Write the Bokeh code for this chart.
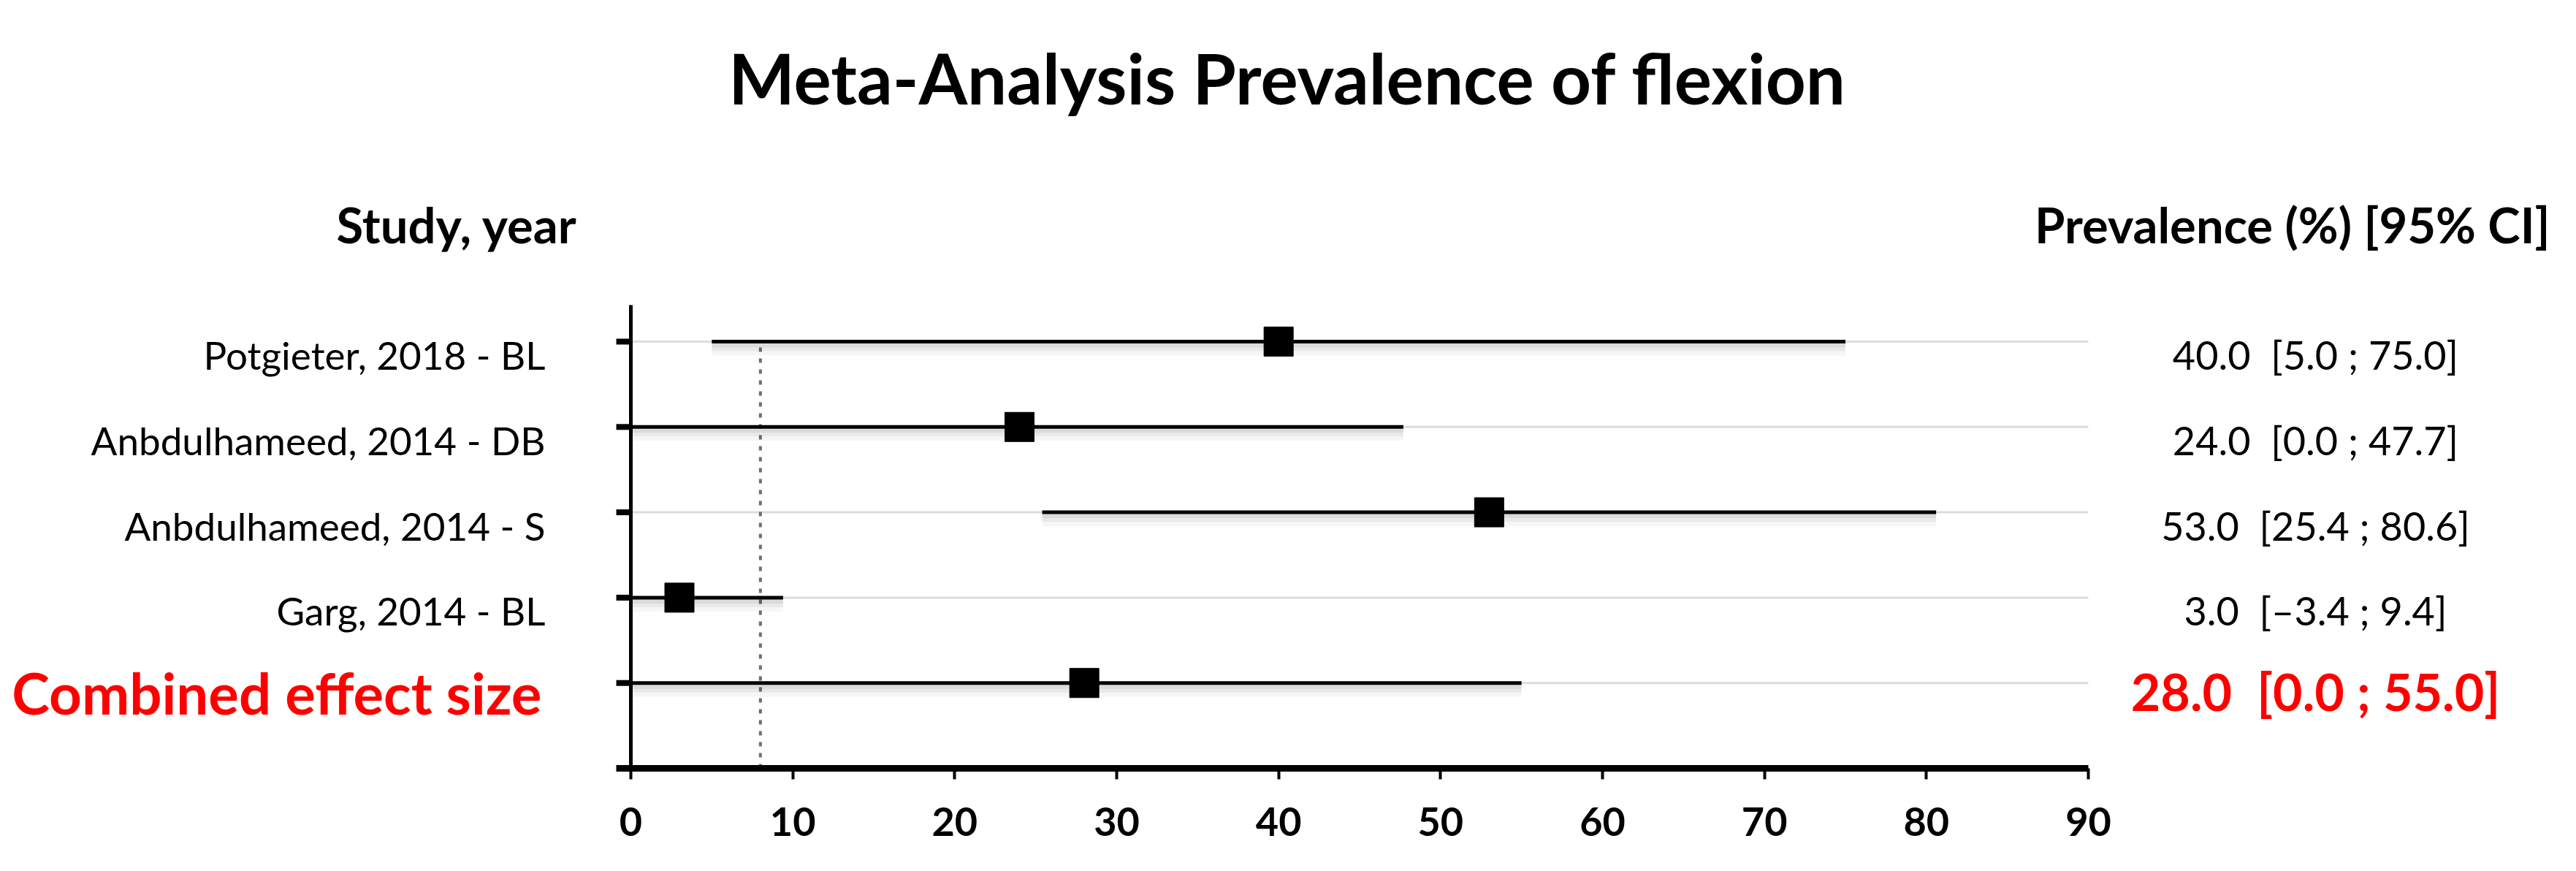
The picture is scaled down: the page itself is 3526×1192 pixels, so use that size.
from bokeh.plotting import figure
from bokeh.models import Range1d, FixedTicker
from bokeh.core.properties import value
from bokeh.embed import file_html
from bokeh.resources import INLINE

# ---------------- data ----------------
title_text = "Meta-Analysis Prevalence of flexion"
left_header = "Study, year"
right_header = "Prevalence (%) [95% CI]"

studies = ["Potgieter, 2018 - BL", "Anbdulhameed, 2014 - DB",
           "Anbdulhameed, 2014 - S", "Garg, 2014 - BL"]
estimates = [40.0, 24.0, 53.0, 3.0]
ci_low = [5.0, 0.0, 25.4, -3.4]
ci_high = [75.0, 47.7, 80.6, 9.4]

combined_label = "Combined effect size"
combined_estimate = 28.0
combined_low = 0.0
combined_high = 55.0

reference_value = 8.0
x_ticks = [0, 10, 20, 30, 40, 50, 60, 70, 80, 90]

# ---------------- layout ----------------
W, H = 3510, 1176
X0_PX = 863.0            # canvas px of x = 0
PX_PER_X = 1995.0 / 90.0
AXIS_PX = 1051.0         # canvas px of frame bottom (y = 0)
PX_PER_Y = 116.8
FONT = value("Lato")


def sx(px):  # screenshot x -> data x
    return (px - 8 - X0_PX) / PX_PER_X


def sy(py):  # screenshot y -> data y
    return (AXIS_PX - (py - 8)) / PX_PER_Y


x_start = -X0_PX / PX_PER_X
x_end = x_start + W / PX_PER_X
y_end = AXIS_PX / PX_PER_Y

p = figure(width=W, height=H, output_backend="svg", toolbar_location=None,
           x_range=Range1d(x_start, x_end), y_range=Range1d(0, y_end),
           y_axis_location=None, min_border_left=0, min_border_right=0,
           min_border_top=0, min_border_bottom=H - int(AXIS_PX))
p.outline_line_color = None
p.xgrid.visible = False
p.ygrid.visible = False
p.background_fill_color = "white"
p.border_fill_color = "white"

# x axis
ax = p.xaxis[0]
ax.ticker = FixedTicker(ticks=x_ticks)
ax.bounds = (-0.9, x_ticks[-1])
ax.axis_line_width = 9
ax.axis_line_color = "black"
ax.major_tick_in = 0
ax.major_tick_out = 15
ax.major_tick_line_width = 4
ax.minor_tick_line_color = None
ax.major_label_text_font = "Lato"
ax.major_label_text_font_style = "bold"
ax.major_label_text_font_size = "54px"
ax.major_label_text_color = "black"
ax.major_label_standoff = 38

n = len(studies)
rows = [float(n + 1 - i) for i in range(n)]
comb_row = 1.0
all_rows = rows + [comb_row]
all_lo = [max(v, x_ticks[0]) for v in ci_low + [combined_low]]
all_hi = ci_high + [combined_high]
all_est = estimates + [combined_estimate]

# gridlines
p.segment(x0=[x_ticks[0]] * len(all_rows), x1=[x_ticks[-1]] * len(all_rows),
          y0=all_rows, y1=all_rows, line_color="#dcdcdc", line_width=3)

# reference dotted line
p.segment(x0=[reference_value], x1=[reference_value], y0=[0], y1=[rows[0] - 0.05],
          line_color="#6e6e6e", line_width=4, line_dash="6 9")

# shadows
for k, a in [(8, 0.06), (13, 0.05), (19, 0.035)]:
    p.quad(left=all_lo, right=all_hi,
           top=[r - 2 / PX_PER_Y for r in all_rows],
           bottom=[r - k / PX_PER_Y for r in all_rows],
           fill_color="black", fill_alpha=a, line_color=None)

# CI lines
p.segment(x0=all_lo, x1=all_hi, y0=all_rows, y1=all_rows,
          line_color="black", line_width=5)

# y axis spine and ticks
p.segment(x0=[0], x1=[0], y0=[0], y1=[sy(425)], line_color="black", line_width=5)
p.segment(x0=[-0.9] * len(all_rows), x1=[0] * len(all_rows), y0=all_rows, y1=all_rows,
          line_color="black", line_width=8)

# squares
p.scatter(x=all_est, y=all_rows, marker="square", size=40,
          fill_color="black", line_color="black", line_join="round", line_width=1)

# ---------------- texts ----------------
p.text(x=[sx(1770)], y=[sy(113)], text=[title_text], text_font=FONT,
       text_font_style="bold", text_font_size="96px", text_align="center",
       text_baseline="alphabetic", text_color="black")
p.text(x=[sx(633)], y=[sy(314)], text=[left_header], text_font=FONT,
       text_font_style="bold", text_font_size="67px", text_align="center",
       text_baseline="alphabetic", text_color="black")
p.text(x=[sx(3498)], y=[sy(314)], text=[right_header], text_font=FONT,
       text_font_style="bold", text_font_size="67px", text_align="right",
       text_baseline="alphabetic", text_color="black")

# study labels
p.text(x=[sx(754)] * n, y=rows, text=studies, text_font=FONT,
       text_font_size="53px", text_align="right", text_baseline="alphabetic",
       y_offset=18, text_color="black")


def fmt(e, lo, hi):
    return ("%.1f\u00a0 [%.1f ; %.1f]" % (e, lo, hi)).replace("-", "\u2013")


vals = [fmt(e, l, h) for e, l, h in zip(estimates, ci_low, ci_high)]
p.text(x=[sx(3177)] * n, y=rows, text=vals, text_font=FONT,
       text_font_size="54px", text_align="center", text_baseline="alphabetic",
       y_offset=18, text_color="black")

# combined
p.text(x=[sx(749)], y=[comb_row], text=[combined_label], text_font=FONT,
       text_font_style="bold", text_font_size="78px", text_align="right",
       text_baseline="alphabetic", y_offset=13, text_color="#ff0000")
p.text(x=[sx(3177)], y=[comb_row], text=[fmt(combined_estimate, combined_low, combined_high)],
       text_font=FONT, text_font_style="bold", text_font_size="70px",
       text_align="center", text_baseline="alphabetic", y_offset=11,
       text_color="#ff0000")

open("out.html", "w").write(file_html(p, INLINE))
